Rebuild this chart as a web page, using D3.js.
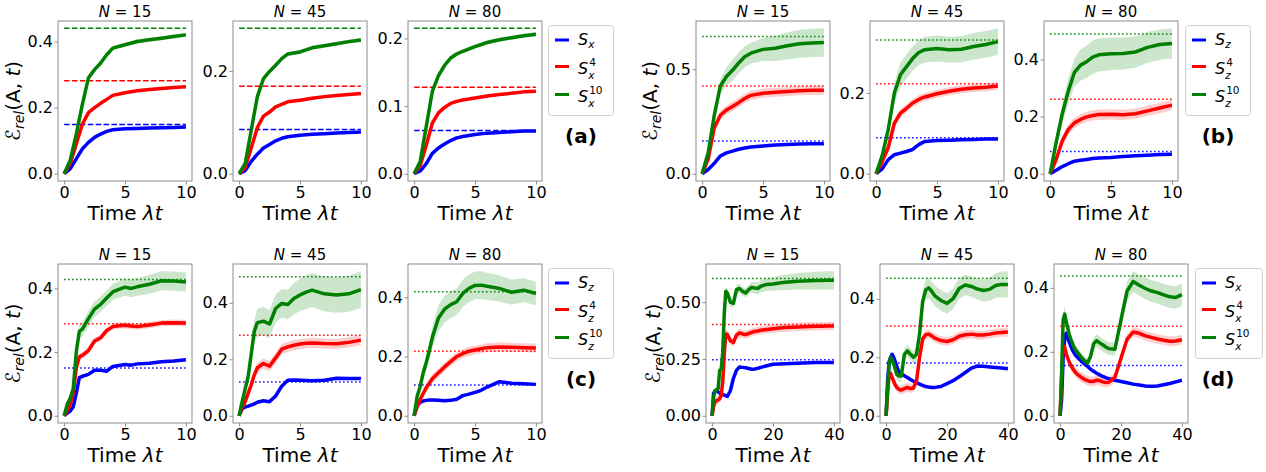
<!DOCTYPE html>
<html>
<head>
<meta charset="utf-8">
<script src="https://cdn.jsdelivr.net/npm/d3@7"></script>
<style>
  body { margin: 0; background: #fff; }
  svg { font-family: "DejaVu Sans", sans-serif; }
  .tick line { stroke: #8c8c8c; }
  .tick text { font-size: 16px; fill: #000; }
  .domain { display: none; }
</style>
</head>
<body>
<svg id="chart" width="1266" height="472"></svg>
<script>
// time grids
const tShort = [0, 0.5, 1, 1.5, 2, 2.5, 3, 3.5, 4, 5, 6, 7, 8, 9, 10];
const tFine = [0, 0.25, 0.5, 0.75, 1, 1.25, 1.5, 2, 2.5, 3, 3.5, 4, 4.5, 5, 5.5, 6, 7, 8, 9, 10];
const tLong = [0, 0.5, 1, 1.5, 2, 2.5, 3, 3.5, 4, 4.5, 5, 6, 7, 8, 9, 10, 11, 12, 13, 14, 15, 16,
               18, 20, 22, 24, 26, 28, 30, 32, 34, 36, 38, 40];

// (a) S_x family, mean curves  [S, S^4, S^10]
const a15_S   = [0, 0.015, 0.045, 0.075, 0.095, 0.11, 0.12, 0.128, 0.133, 0.136, 0.137, 0.138, 0.139, 0.14, 0.141];
const a15_S4  = [0, 0.03, 0.09, 0.15, 0.185, 0.2, 0.213, 0.225, 0.237, 0.245, 0.251, 0.255, 0.258, 0.261, 0.263];
const a15_S10 = [0, 0.04, 0.12, 0.21, 0.29, 0.315, 0.335, 0.36, 0.38, 0.39, 0.4, 0.405, 0.41, 0.415, 0.42];
const a45_S   = [0, 0.006, 0.024, 0.038, 0.05, 0.057, 0.064, 0.069, 0.072, 0.075, 0.077, 0.078, 0.079, 0.08, 0.081];
const a45_S4  = [0, 0.012, 0.05, 0.09, 0.112, 0.12, 0.13, 0.135, 0.14, 0.143, 0.147, 0.15, 0.152, 0.154, 0.156];
const a45_S10 = [0, 0.02, 0.085, 0.15, 0.185, 0.199, 0.211, 0.224, 0.233, 0.237, 0.245, 0.249, 0.253, 0.257, 0.26];
const a80_S   = [0, 0.004, 0.015, 0.03, 0.038, 0.044, 0.049, 0.053, 0.055, 0.058, 0.06, 0.061, 0.062, 0.063, 0.063];
const a80_S4  = [0, 0.012, 0.042, 0.075, 0.09, 0.098, 0.104, 0.107, 0.109, 0.112, 0.115, 0.117, 0.119, 0.121, 0.122];
const a80_S10 = [0, 0.018, 0.07, 0.122, 0.145, 0.16, 0.171, 0.177, 0.181, 0.188, 0.194, 0.198, 0.201, 0.204, 0.206];

// (b) S_z family
const b15_S   = [0, 0.02, 0.05, 0.085, 0.1, 0.108, 0.117, 0.123, 0.128, 0.133, 0.137, 0.14, 0.142, 0.143, 0.144];
const b15_S4  = [0, 0.07, 0.22, 0.28, 0.305, 0.322, 0.34, 0.36, 0.375, 0.385, 0.39, 0.393, 0.397, 0.399, 0.4];
const b15_S10 = [0, 0.1, 0.28, 0.42, 0.465, 0.495, 0.53, 0.56, 0.577, 0.595, 0.6, 0.612, 0.622, 0.626, 0.628];
const b45_S   = [0, 0.012, 0.035, 0.047, 0.051, 0.055, 0.06, 0.072, 0.08, 0.082, 0.083, 0.084, 0.085, 0.086, 0.086];
const b45_S4  = [0, 0.03, 0.065, 0.125, 0.15, 0.162, 0.175, 0.184, 0.19, 0.198, 0.204, 0.209, 0.212, 0.214, 0.217];
const b45_S10 = [0, 0.045, 0.11, 0.2, 0.245, 0.265, 0.285, 0.3, 0.307, 0.31, 0.307, 0.308, 0.315, 0.32, 0.327];
const b80_S   = [0, 0.012, 0.025, 0.035, 0.044, 0.047, 0.05, 0.053, 0.055, 0.057, 0.06, 0.063, 0.065, 0.067, 0.068];
const b80_S4  = [0, 0.05, 0.115, 0.155, 0.178, 0.19, 0.199, 0.204, 0.207, 0.208, 0.206, 0.21, 0.22, 0.23, 0.24];
const b80_S10 = [0, 0.11, 0.21, 0.29, 0.355, 0.38, 0.392, 0.408, 0.416, 0.42, 0.421, 0.426, 0.442, 0.452, 0.456];
const b15_S10_sd = [0, 0.01, 0.02, 0.035, 0.045, 0.05, 0.05, 0.05, 0.05, 0.055, 0.06, 0.065, 0.067, 0.068, 0.068];
const b45_S10_sd = [0, 0.01, 0.02, 0.025, 0.03, 0.03, 0.03, 0.031, 0.032, 0.032, 0.032, 0.032, 0.033, 0.033, 0.033];
const b80_S10_sd = [0, 0.02, 0.035, 0.045, 0.05, 0.055, 0.057, 0.058, 0.058, 0.057, 0.056, 0.055, 0.054, 0.053, 0.053];

// (c) S_z family, other initial state
const c15_S   = [0, 0.008, 0.015, 0.028, 0.07, 0.12, 0.124, 0.13, 0.143, 0.143, 0.14, 0.155, 0.158, 0.161, 0.159, 0.163, 0.165, 0.17, 0.172, 0.176];
const c15_S4  = [0, 0.015, 0.035, 0.07, 0.15, 0.185, 0.19, 0.205, 0.235, 0.245, 0.268, 0.28, 0.283, 0.284, 0.282, 0.28, 0.285, 0.291, 0.292, 0.291];
const c15_S10 = [0, 0.035, 0.055, 0.085, 0.2, 0.265, 0.272, 0.305, 0.335, 0.35, 0.37, 0.389, 0.397, 0.404, 0.4, 0.405, 0.413, 0.424, 0.423, 0.42];
const c45_S   = [0, 0.025, 0.031, 0.034, 0.038, 0.042, 0.048, 0.053, 0.05, 0.07, 0.105, 0.126, 0.127, 0.126, 0.125, 0.124, 0.126, 0.133, 0.132, 0.132];
const c45_S4  = [0, 0.03, 0.05, 0.08, 0.11, 0.145, 0.17, 0.185, 0.176, 0.205, 0.236, 0.244, 0.25, 0.254, 0.257, 0.258, 0.256, 0.255, 0.26, 0.268];
const c45_S10 = [0, 0.05, 0.095, 0.14, 0.22, 0.3, 0.33, 0.335, 0.325, 0.38, 0.398, 0.394, 0.415, 0.428, 0.438, 0.445, 0.432, 0.428, 0.432, 0.447];
const c80_S   = [0, 0.035, 0.045, 0.05, 0.052, 0.053, 0.053, 0.052, 0.051, 0.052, 0.056, 0.068, 0.073, 0.079, 0.086, 0.097, 0.115, 0.11, 0.108, 0.106];
const c80_S4  = [0, 0.03, 0.055, 0.075, 0.095, 0.11, 0.125, 0.145, 0.165, 0.183, 0.2, 0.21, 0.218, 0.222, 0.226, 0.23, 0.232, 0.231, 0.23, 0.229];
const c80_S10 = [0, 0.065, 0.1, 0.145, 0.18, 0.22, 0.265, 0.33, 0.36, 0.375, 0.385, 0.413, 0.43, 0.44, 0.441, 0.437, 0.43, 0.417, 0.424, 0.413];
const c15_S10_sd = [0, 0.008, 0.01, 0.012, 0.018, 0.02, 0.022, 0.025, 0.025, 0.025, 0.025, 0.025, 0.026, 0.027, 0.028, 0.028, 0.03, 0.03, 0.03, 0.03];
const c45_S10_sd = [0, 0.01, 0.015, 0.02, 0.03, 0.04, 0.05, 0.05, 0.05, 0.05, 0.05, 0.052, 0.055, 0.058, 0.06, 0.06, 0.062, 0.063, 0.064, 0.065];
const c80_S10_sd = [0, 0.01, 0.015, 0.02, 0.025, 0.03, 0.035, 0.045, 0.045, 0.045, 0.045, 0.046, 0.047, 0.047, 0.047, 0.046, 0.044, 0.042, 0.04, 0.04];

// (d) S_x family, long times
const d15_S   = [0, 0.1, 0.108, 0.11, 0.105, 0.1, 0.095, 0.093, 0.091, 0.088, 0.085, 0.11, 0.165, 0.2, 0.215, 0.213, 0.211, 0.208, 0.205, 0.206, 0.209, 0.213,
                 0.22, 0.227, 0.228, 0.229, 0.23, 0.231, 0.232, 0.233, 0.234, 0.234, 0.234, 0.234];
const d15_S4  = [0, 0.04, 0.065, 0.066, 0.07, 0.075, 0.09, 0.15, 0.27, 0.36, 0.358, 0.33, 0.322, 0.355, 0.365, 0.36, 0.357, 0.362, 0.367, 0.371, 0.373, 0.376,
                 0.38, 0.383, 0.386, 0.388, 0.39, 0.391, 0.392, 0.393, 0.394, 0.394, 0.395, 0.395];
const d15_S10 = [0, 0.085, 0.11, 0.115, 0.12, 0.2, 0.205, 0.28, 0.45, 0.548, 0.54, 0.5, 0.495, 0.555, 0.56, 0.548, 0.54, 0.555, 0.565, 0.562, 0.56, 0.57,
                 0.578, 0.58, 0.584, 0.587, 0.59, 0.592, 0.593, 0.594, 0.595, 0.595, 0.596, 0.596];
const d45_S   = [0, 0.12, 0.185, 0.2, 0.21, 0.2, 0.185, 0.17, 0.155, 0.148, 0.143, 0.137, 0.131, 0.124, 0.118, 0.114, 0.108, 0.104, 0.1, 0.098, 0.097, 0.097,
                 0.1, 0.11, 0.12, 0.133, 0.148, 0.163, 0.17, 0.169, 0.167, 0.165, 0.163, 0.161];
const d45_S4  = [0, 0.08, 0.14, 0.145, 0.13, 0.118, 0.105, 0.097, 0.092, 0.089, 0.088, 0.093, 0.097, 0.093, 0.095, 0.12, 0.2, 0.262, 0.277, 0.279, 0.273, 0.265,
                 0.257, 0.254, 0.26, 0.272, 0.277, 0.279, 0.276, 0.276, 0.279, 0.283, 0.285, 0.286];
const d45_S10 = [0, 0.09, 0.18, 0.2, 0.19, 0.178, 0.16, 0.142, 0.137, 0.136, 0.136, 0.21, 0.222, 0.21, 0.2, 0.21, 0.28, 0.39, 0.43, 0.437, 0.425, 0.41,
                 0.394, 0.384, 0.4, 0.435, 0.447, 0.442, 0.433, 0.428, 0.432, 0.445, 0.449, 0.449];
const d80_S   = [0, 0.05, 0.18, 0.24, 0.258, 0.245, 0.23, 0.218, 0.207, 0.198, 0.19, 0.18, 0.17, 0.162, 0.154, 0.146, 0.139, 0.133, 0.128, 0.123, 0.119, 0.116,
                 0.111, 0.107, 0.103, 0.099, 0.096, 0.093, 0.092, 0.093, 0.097, 0.101, 0.106, 0.111];
const d80_S4  = [0, 0.12, 0.22, 0.215, 0.195, 0.18, 0.168, 0.158, 0.15, 0.143, 0.136, 0.127, 0.12, 0.114, 0.11, 0.107, 0.108, 0.111, 0.11, 0.106, 0.104, 0.105,
                 0.12, 0.18, 0.24, 0.262, 0.258, 0.25, 0.245, 0.24, 0.236, 0.233, 0.234, 0.238];
const d80_S10 = [0, 0.13, 0.3, 0.318, 0.295, 0.275, 0.255, 0.24, 0.228, 0.215, 0.207, 0.195, 0.182, 0.172, 0.165, 0.185, 0.225, 0.235, 0.228, 0.222, 0.215, 0.21,
                 0.208, 0.3, 0.39, 0.42, 0.408, 0.398, 0.39, 0.385, 0.378, 0.372, 0.37, 0.379];
const d15_S10_sd = [0, 0.01, 0.01, 0.01, 0.01, 0.012, 0.012, 0.015, 0.018, 0.02, 0.02, 0.02, 0.02, 0.02, 0.02, 0.02, 0.02, 0.022, 0.024, 0.025, 0.026, 0.027,
                    0.029, 0.03, 0.032, 0.034, 0.035, 0.036, 0.037, 0.038, 0.039, 0.04, 0.04, 0.04];
const d45_S10_sd = [0, 0.01, 0.015, 0.02, 0.02, 0.02, 0.02, 0.02, 0.02, 0.02, 0.02, 0.02, 0.02, 0.02, 0.02, 0.025, 0.03, 0.035, 0.035, 0.035, 0.035, 0.035,
                    0.035, 0.035, 0.035, 0.035, 0.035, 0.035, 0.036, 0.038, 0.04, 0.042, 0.044, 0.045];
const d80_S10_sd = [0, 0.01, 0.02, 0.025, 0.02, 0.015, 0.015, 0.015, 0.015, 0.015, 0.015, 0.015, 0.015, 0.015, 0.015, 0.018, 0.02, 0.02, 0.02, 0.02, 0.02, 0.02,
                    0.02, 0.025, 0.03, 0.032, 0.033, 0.034, 0.034, 0.034, 0.035, 0.035, 0.035, 0.035];

// steady-state reference levels [S, S^4, S^10]
const a15_ref = [0.149, 0.281, 0.44],  a45_ref = [0.086, 0.17, 0.283], a80_ref = [0.064, 0.128, 0.215];
const b15_ref = [0.157, 0.42, 0.657],  b45_ref = [0.089, 0.223, 0.331], b80_ref = [0.078, 0.261, 0.489];
const c15_ref = [0.15, 0.289, 0.428],  c45_ref = [0.12, 0.285, 0.492], c80_ref = [0.104, 0.218, 0.419];
const d15_ref = [0.246, 0.402, 0.604], d45_ref = [0.18, 0.307, 0.47],  d80_ref = [0.157, 0.28, 0.437];

// tick values
const xTicksShort = [0, 5, 10];
const xTicksLong = [0, 20, 40];
const yTicks = {
  a15: [0, 0.2, 0.4], a45: [0, 0.2], a80: [0, 0.1, 0.2],
  b15: [0, 0.5], b45: [0, 0.2], b80: [0, 0.2, 0.4],
  c15: [0, 0.2, 0.4], c45: [0, 0.2, 0.4], c80: [0, 0.2, 0.4],
  d15: [0, 0.25, 0.5], d45: [0, 0.2, 0.4], d80: [0, 0.2, 0.4]
};
const sizes = [15, 45, 80];
const supers = ['', '4', '10'];
const colors = ['#0000ff', '#ff0000', '#008000'];

const panels = [
  { g: 'a', i: 0, t: tShort, s: [a15_S, a15_S4, a15_S10], sd: [0.003, 0.004, 0.006], ref: a15_ref, yt: yTicks.a15 },
  { g: 'a', i: 1, t: tShort, s: [a45_S, a45_S4, a45_S10], sd: [0.002, 0.003, 0.004], ref: a45_ref, yt: yTicks.a45 },
  { g: 'a', i: 2, t: tShort, s: [a80_S, a80_S4, a80_S10], sd: [0.002, 0.002, 0.003], ref: a80_ref, yt: yTicks.a80 },
  { g: 'b', i: 0, t: tShort, s: [b15_S, b15_S4, b15_S10], sd: [0.005, 0.022, b15_S10_sd], ref: b15_ref, yt: yTicks.b15 },
  { g: 'b', i: 1, t: tShort, s: [b45_S, b45_S4, b45_S10], sd: [0.003, 0.01, b45_S10_sd], ref: b45_ref, yt: yTicks.b45 },
  { g: 'b', i: 2, t: tShort, s: [b80_S, b80_S4, b80_S10], sd: [0.004, 0.018, b80_S10_sd], ref: b80_ref, yt: yTicks.b80 },
  { g: 'c', i: 0, t: tFine, s: [c15_S, c15_S4, c15_S10], sd: [0.005, 0.01, c15_S10_sd], ref: c15_ref, yt: yTicks.c15 },
  { g: 'c', i: 1, t: tFine, s: [c45_S, c45_S4, c45_S10], sd: [0.005, 0.018, c45_S10_sd], ref: c45_ref, yt: yTicks.c45 },
  { g: 'c', i: 2, t: tFine, s: [c80_S, c80_S4, c80_S10], sd: [0.005, 0.015, c80_S10_sd], ref: c80_ref, yt: yTicks.c80 },
  { g: 'd', i: 0, t: tLong, s: [d15_S, d15_S4, d15_S10], sd: [0.005, 0.018, d15_S10_sd], ref: d15_ref, yt: yTicks.d15 },
  { g: 'd', i: 1, t: tLong, s: [d45_S, d45_S4, d45_S10], sd: [0.004, 0.015, d45_S10_sd], ref: d45_ref, yt: yTicks.d45 },
  { g: 'd', i: 2, t: tLong, s: [d80_S, d80_S4, d80_S10], sd: [0.004, 0.015, d80_S10_sd], ref: d80_ref, yt: yTicks.d80 }
];

// layout of the four groups (pixel boxes of the axes)
const layout = {
  a: { lefts: [58, 233, 408],   top: 21,  h: 160, legend: [548, 25, 65, 90],   tag: [581, 143], ylab: 20,  sub: 'x', dash: '5.5,2.4', long: false },
  b: { lefts: [696, 870, 1044], top: 21,  h: 160, legend: [1185, 25, 65, 90],  tag: [1218, 143], ylab: 657, sub: 'z', dash: '1.5,2.5', long: false },
  c: { lefts: [58, 233, 408],   top: 264, h: 159, legend: [548, 268, 65, 90],  tag: [581, 386], ylab: 20,  sub: 'z', dash: '1.5,2.5', long: false },
  d: { lefts: [706, 880, 1054], top: 264, h: 159, legend: [1195, 268, 67, 90], tag: [1218, 386], ylab: 660, sub: 'x', dash: '1.5,2.5', long: true }
};
const W = 134;

const svg = d3.select('#chart');

panels.forEach(p => {
  const L = layout[p.g];
  const left = L.lefts[p.i], top = L.top, h = L.h;
  const xmax = d3.max(p.t);
  const x = d3.scaleLinear().domain([-0.05 * xmax, 1.05 * xmax]).range([left, left + W]);

  const half = (k, j) => {
    const sd = typeof p.sd[k] === 'number' ? p.sd[k] : p.sd[k][j];
    return Math.min(sd, p.s[k][j]);
  };
  let hi = d3.max(p.ref);
  p.s.forEach((arr, k) => arr.forEach((v, j) => { hi = Math.max(hi, v + half(k, j)); }));
  const lo = 0, pad = 0.05 * (hi - lo);
  const y = d3.scaleLinear().domain([lo - pad, hi + pad]).range([top + h, top]);

  const g = svg.append('g');

  // bands
  p.s.forEach((arr, k) => {
    const area = d3.area()
      .x((v, j) => x(p.t[j]))
      .y0((v, j) => y(v - half(k, j)))
      .y1((v, j) => y(v + half(k, j)));
    g.append('path').attr('d', area(arr)).attr('fill', colors[k]).attr('fill-opacity', 0.2);
  });

  // reference levels
  p.ref.forEach((r, k) => {
    g.append('line')
      .attr('x1', x(0)).attr('x2', x(xmax))
      .attr('y1', y(r)).attr('y2', y(r))
      .attr('stroke', colors[k]).attr('stroke-width', 1.5)
      .attr('stroke-dasharray', L.dash);
  });

  // mean curves
  const line = d3.line().x((v, j) => x(p.t[j])).y(v => y(v));
  p.s.forEach((arr, k) => {
    g.append('path').attr('d', line(arr))
      .attr('fill', 'none').attr('stroke', colors[k])
      .attr('stroke-width', 3.5).attr('stroke-linejoin', 'round');
  });

  // axes
  const fmt = p.yt.some(v => Math.round(v * 100) % 10 !== 0) ? d3.format('.2f') : d3.format('.1f');
  g.append('g').attr('transform', `translate(${left},0)`)
    .call(d3.axisLeft(y).tickValues(p.yt).tickFormat(fmt).tickSize(3.5).tickPadding(1.5));
  g.append('g').attr('transform', `translate(0,${top + h})`)
    .call(d3.axisBottom(x).tickValues(L.long ? xTicksLong : xTicksShort).tickFormat(d3.format('d')).tickSize(3.5).tickPadding(2));
  g.selectAll('.tick text').style('font-family', '"DejaVu Sans", sans-serif');

  g.append('rect').attr('x', left).attr('y', top).attr('width', W).attr('height', h)
    .attr('fill', 'none').attr('stroke', '#8c8c8c').attr('stroke-width', 1);

  // title
  const tt = g.append('text').attr('x', left + W / 2).attr('y', top - 4)
    .attr('text-anchor', 'middle').style('font-size', '15px');
  tt.append('tspan').style('font-style', 'italic').text('N');
  tt.append('tspan').text(' = ' + sizes[p.i]);

  // x label
  const xl = g.append('text').attr('x', left + W / 2).attr('y', top + h + 39)
    .attr('text-anchor', 'middle').style('font-size', '20px');
  xl.append('tspan').text('Time ');
  xl.append('tspan').style('font-style', 'italic').text('λt');
});

// y labels, legends, group tags
Object.keys(layout).forEach(key => {
  const L = layout[key];
  const cy = L.top + L.h / 2;
  const yl = svg.append('text')
    .attr('transform', `translate(${L.ylab},${cy}) rotate(-90)`)
    .attr('text-anchor', 'middle').style('font-size', '20px');
  yl.append('tspan').style('font-style', 'italic').text('ℰ');
  yl.append('tspan').style('font-style', 'italic').style('font-size', '14px').attr('dy', 4).text('rel');
  yl.append('tspan').attr('dy', -4).text('(A, ');
  yl.append('tspan').style('font-style', 'italic').text('t');
  yl.append('tspan').text(')');

  const [lx, ly, lw, lh] = L.legend;
  svg.append('rect').attr('x', lx + 0.5).attr('y', ly + 0.5).attr('width', lw).attr('height', lh)
    .attr('rx', 3).attr('fill', '#fff').attr('fill-opacity', 0.8).attr('stroke', '#d0d0d0');
  const rows = [15, 41.5, 69.5];
  supers.forEach((sup, i) => {
    const ey = ly + rows[i];
    svg.append('line').attr('x1', lx + 7).attr('x2', lx + 21).attr('y1', ey).attr('y2', ey)
      .attr('stroke', colors[i]).attr('stroke-width', 3);
    const base = sup ? ey + 7 : ey + 5;
    const s = svg.append('text').attr('x', lx + 30).attr('y', base)
      .style('font-size', '16px').style('font-style', 'italic').text('S');
    const sw = s.node().getComputedTextLength();
    svg.append('text').attr('x', lx + 30 + sw).attr('y', sup ? ey + 12.5 : ey + 8)
      .style('font-size', '10.5px').style('font-style', 'italic').text(L.sub);
    if (sup) {
      svg.append('text').attr('x', lx + 31 + sw).attr('y', ey - 0.5)
        .style('font-size', '10.5px').text(sup);
    }
  });

  svg.append('text').attr('x', L.tag[0]).attr('y', L.tag[1])
    .attr('text-anchor', 'middle').style('font-size', '20px').style('font-weight', 'bold')
    .text('(' + key + ')');
});
</script>
</body>
</html>
